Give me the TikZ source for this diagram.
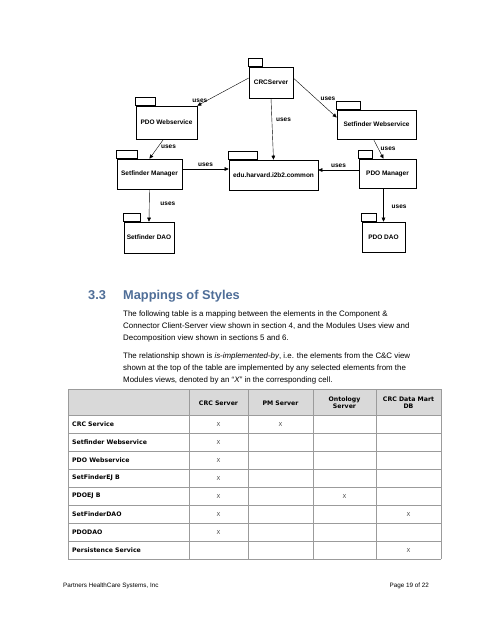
\documentclass[tikz,border=0pt]{standalone}
\usepackage{fontspec}
\setmainfont{Liberation Sans}
\newfontfamily\tblfont{DejaVu Sans}
\usetikzlibrary{arrows.meta,positioning}
\definecolor{headblue}{RGB}{79,110,152}
\definecolor{rulegray}{RGB}{155,155,155}
\definecolor{cellgray}{RGB}{217,217,217}
\definecolor{xgray}{RGB}{70,70,70}
\begin{document}
\begin{tikzpicture}[x=1pt,y=-1pt,>={Triangle[length=4pt,width=3.6pt]},
    pkg/.style 2 args={draw,line width=0.6pt,minimum width=#1,minimum height=#2,
        inner sep=0pt,font=\fontsize{6.5}{7}\selectfont\bfseries},
    uses/.style={font=\fontsize{6.5}{7}\selectfont\bfseries,inner sep=1pt},
    para/.style={anchor=base west,inner sep=0pt,font=\fontsize{7.9}{9}\selectfont},
    cell/.style={inner sep=0pt,font=\tblfont\fontsize{6.2}{7}\selectfont\bfseries},
    xmark/.style={inner sep=0pt,text=xgray,font=\tblfont\fontsize{5.5}{6}\selectfont}]
    \def\tab(#1,#2){\draw[line width=0.5pt] (#1.north west) rectangle ++(#2,-8)}
    \useasboundingbox[fill=white] (0,0) rectangle (495,640);
    %===========================================
    \node[pkg={44}{31}] (crc) at (271,82.5) {CRCServer};
    \node[pkg={61}{33}] (pdows) at (166.5,122.5) {PDO Webservice};
    \node[pkg={79}{29}] (sfws) at (376.5,124.5) {Setfinder Webservice};
    \node[pkg={65}{30}] (sfmgr) at (149.5,174) {Setfinder Manager};
    \node[pkg={89}{30}] (common) at (273.5,175) {edu.harvard.i2b2.common};
    \node[pkg={57}{29}] (pdomgr) at (387.5,173.5) {PDO Manager};
    \node[pkg={50}{31}] (sfdao) at (149,237.5) {Setfinder DAO};
    \node[pkg={43}{30}] (pdodao) at (383.5,237) {PDO DAO};
    \tab(crc,14); \tab(pdows,20); \tab(sfws,24); \tab(sfmgr,21);
    \tab(common,29); \tab(pdomgr,14); \tab(sfdao,17); \tab(pdodao,15);
    %===========================================
    \draw[->] ([yshift=4.5]crc.west) -- (pdows.north east)
        node[uses,pos=0.95,above=1pt] (u1) {uses};
    \draw[->] ([yshift=4.5]crc.east) -- ([yshift=7]sfws.west)
        node[uses,pos=0.6,above right] (u2) {uses};
    \draw[->] (crc.south) -- (common.north)
        node[uses,pos=0.35,right=3pt] (u3) {uses};
    \draw[->] ([xshift=-3]pdows.south) -- (sfmgr.north)
        node[uses,pos=0.4,right=2pt] (u4) {uses};
    \draw[->] ([xshift=-3]sfws.south) -- ([xshift=-4]pdomgr.north)
        node[uses,pos=0.5,right=1pt] (u5) {uses};
    \draw[->] ([yshift=5]sfmgr.east) -- ([yshift=6]common.west)
        node[uses,midway,above=1pt] (u6) {uses};
    \draw[->] ([yshift=3.5]pdomgr.west) -- ([yshift=5]common.east)
        node[uses,midway,above=1pt] (u7) {uses};
    \draw[->] (sfmgr.south) -- (sfdao.north)
        node[uses,pos=0.45,right=10pt] (u8) {uses};
    \draw[->] ([xshift=-4]pdomgr.south) -- (pdodao.north)
        node[uses,pos=0.55,right=7pt] (u9) {uses};
    %===========================================
    \node[anchor=base west,inner sep=0pt,text=headblue,
        font=\fontsize{12.8}{14}\selectfont\bfseries] (secnum) at (88,299) {3.3};
    \node[anchor=base west,inner sep=0pt,text=headblue,
        font=\fontsize{12.8}{14}\selectfont\bfseries] (sectitle) at (123,299) {Mappings of Styles};
    \node[para] (p1) at (123,316) {The following table is a mapping between the elements in the Component \&};
    \node[para] (p2) at (123,328) {Connector Client-Server view shown in section 4, and the Modules Uses view and};
    \node[para] (p3) at (123,340) {Decomposition view shown in sections 5 and 6.};
    \node[para] (p4) at (123,358) {The relationship shown is \textit{is-implemented-by}, i.e. the elements from the C\&C view};
    \node[para] (p5) at (123,370) {shown at the top of the table are implemented by any selected elements from the};
    \node[para] (p6) at (123,382) {Modules views, denoted by an “\textit{X}” in the corresponding cell.};
    %===========================================
    \fill[cellgray] (68,389) rectangle (441,415);
    \foreach \y in {389,415,433,...,559}
        \draw[rulegray,line width=0.7pt] (68,\y) -- (441,\y);
    \foreach \x in {68,189,248,313,376,441}
        \draw[rulegray,line width=0.7pt] (\x,389) -- (\x,559);
    \node[cell] (h1) at (218.5,403) {CRC Server};
    \node[cell] (h2) at (280.5,403) {PM Server};
    \node[cell,align=center] (h3) at (344.5,403) {Ontology\\Server};
    \node[cell,align=center] (h4) at (408.5,403) {CRC Data Mart\\DB};
    \foreach \name [count=\i] in {CRC Service,Setfinder Webservice,PDO Webservice,
        SetFinderEJ B,PDOEJ B,SetFinderDAO,PDODAO,Persistence Service}
        \node[cell,anchor=west] (r\i) at (72,406+18*\i) {\name};
    \foreach \c/\r [count=\k] in {218.5/1,280.5/1,218.5/2,218.5/3,218.5/4,218.5/5,344.5/5,
        218.5/6,408.5/6,218.5/7,408.5/8}
        \node[xmark] (x\k) at (\c,406+18*\r) {X};
    %===========================================
    \node[anchor=base west,inner sep=0pt,font=\fontsize{6.3}{7}\selectfont] (foot) at (63,587)
        {Partners HealthCare Systems, Inc};
    \node[anchor=base east,inner sep=0pt,font=\fontsize{6.3}{7}\selectfont] (page) at (429,587)
        {Page 19 of 22};
\end{tikzpicture}
\end{document}
